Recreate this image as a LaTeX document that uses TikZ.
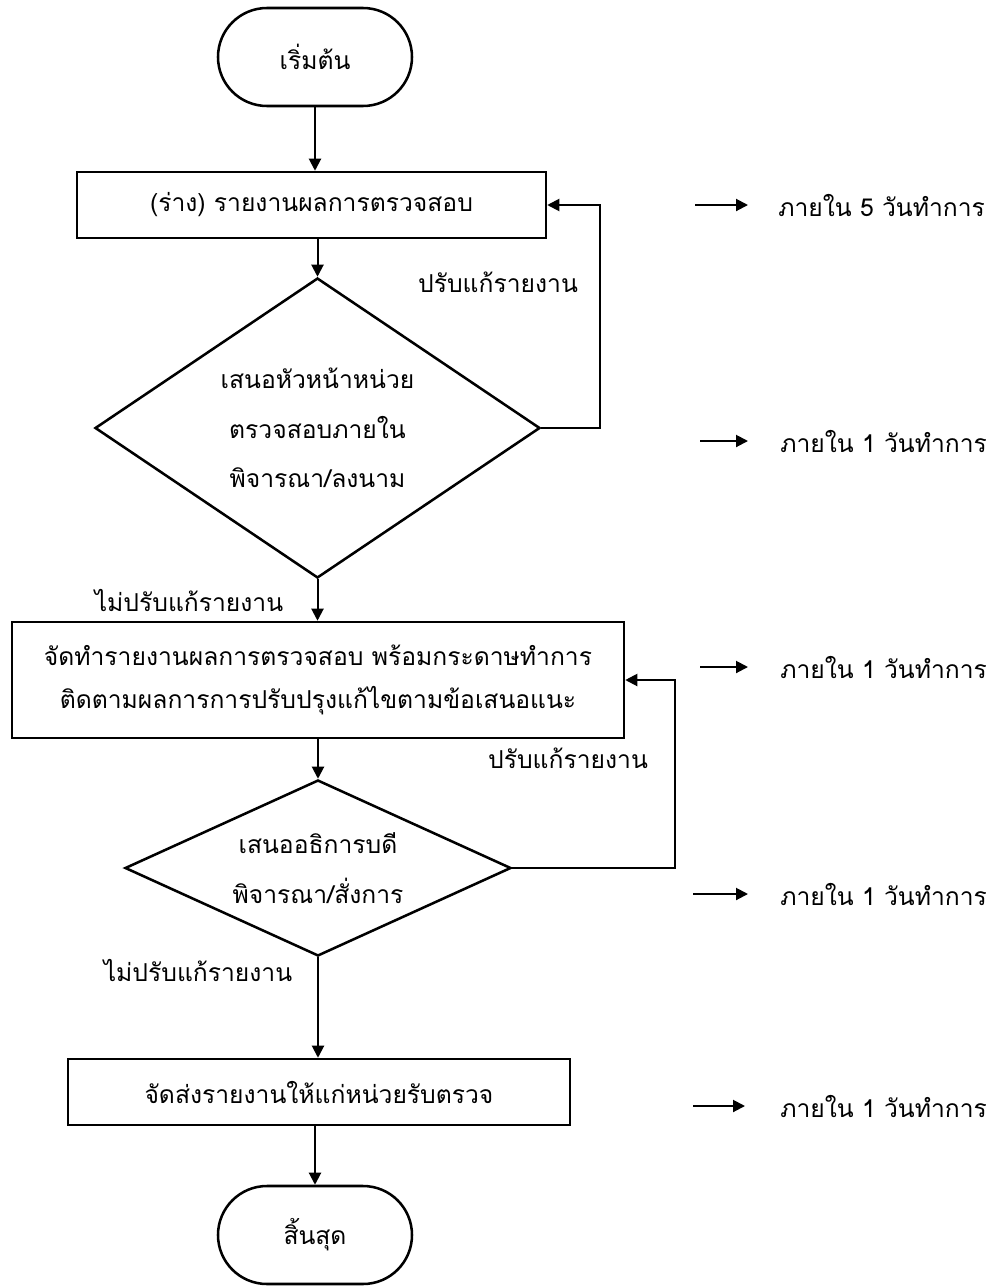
\documentclass[tikz,border=0pt]{standalone}
\usepackage{fontspec}
\setmainfont[Script=Thai]{Loma}
\usetikzlibrary{arrows.meta,shapes.geometric,shapes.misc}
\begin{document}
\begin{tikzpicture}[x=0.75pt,y=-0.75pt,
  font=\fontsize{18.5}{22}\selectfont,
  shp/.style={draw,line width=1.9pt,inner sep=0pt,align=center},
  term/.style={shp,rounded rectangle},
  boxx/.style={shp,rectangle},
  dia/.style={shp,diamond},
  arr/.style={line width=1.5pt,-{Triangle[length=9pt,width=9pt]}},
  lbl/.style={inner sep=0pt,align=center},
  tnote/.style={inner sep=0pt,anchor=west}]
\useasboundingbox (0,0) rectangle (1001,1286);
\node[term,minimum width=145.5pt,minimum height=73.5pt] (start) at (315,57) {เริ่มต้น};
\node[boxx,minimum width=351.75pt,minimum height=49.5pt] (box1) at (311.5,205) {(ร่าง) รายงานผลการตรวจสอบ};
\node[dia,minimum width=333.75pt,minimum height=225pt] (d1) at (317.5,428) {};
\node[lbl] (d1t) at (d1.center) {เสนอหัวหน้าหน่วย\\[15pt]ตรวจสอบภายใน\\[15pt]พิจารณา/ลงนาม};
\node[boxx,minimum width=459pt,minimum height=87pt] (box2) at (318,680) {จัดทำรายงานผลการตรวจสอบ พร้อมกระดาษทำการ\\[10pt]ติดตามผลการการปรับปรุงแก้ไขตามข้อเสนอแนะ};
\node[dia,minimum width=289.5pt,minimum height=132pt] (d2) at (318,868) {};
\node[lbl] (d2t) at (d2.center) {เสนออธิการบดี\\[16pt]พิจารณา/สั่งการ};
\node[boxx,minimum width=376.5pt,minimum height=49.5pt] (box3) at (319,1092) {จัดส่งรายงานให้แก่หน่วยรับตรวจ};
\node[term,minimum width=145.5pt,minimum height=73.5pt] (end) at (315,1235) {สิ้นสุด};

\draw[arr] (start.south) -- (start.south |- box1.north);
\draw[arr] (box1.south -| d1.north) -- (d1.north);
\draw[arr] (d1.south) -- (d1.south |- box2.north);
\draw[arr] (box2.south -| d2.north) -- (d2.north);
\draw[arr] (d2.south) -- (d2.south |- box3.north);
\draw[arr] (box3.south -| end.north) -- (end.north);

\coordinate (k1) at (600,428);
\coordinate (k2) at (675,868);
\draw[arr] (d1.east) -- (k1) |- (box1.east);
\draw[arr] (d2.east) -- (k2) |- (box2.east);

\node[lbl] (l1) at (498,282) {ปรับแก้รายงาน};
\node[lbl] (l2) at (189,600) {ไม่ปรับแก้รายงาน};
\node[lbl] (l3) at (568,758) {ปรับแก้รายงาน};
\node[lbl] (l4) at (198,970) {ไม่ปรับแก้รายงาน};

\coordinate (a1) at (695,205); \coordinate (b1) at (748,205);
\coordinate (a2) at (700,441); \coordinate (b2) at (748,441);
\coordinate (a3) at (700,667); \coordinate (b3) at (748,667);
\coordinate (a4) at (693,894); \coordinate (b4) at (748,894);
\coordinate (a5) at (693,1106); \coordinate (b5) at (745,1106);
\foreach \i in {1,...,5}{\draw[arr] (a\i) -- (b\i);}
\node[tnote] (t1) at (778,205) {ภายใน 5 วันทำการ};
\node[tnote] (t2) at (780,441) {ภายใน 1 วันทำการ};
\node[tnote] (t3) at (780,667) {ภายใน 1 วันทำการ};
\node[tnote] (t4) at (780,894) {ภายใน 1 วันทำการ};
\node[tnote] (t5) at (780,1106) {ภายใน 1 วันทำการ};
\end{tikzpicture}
\end{document}
